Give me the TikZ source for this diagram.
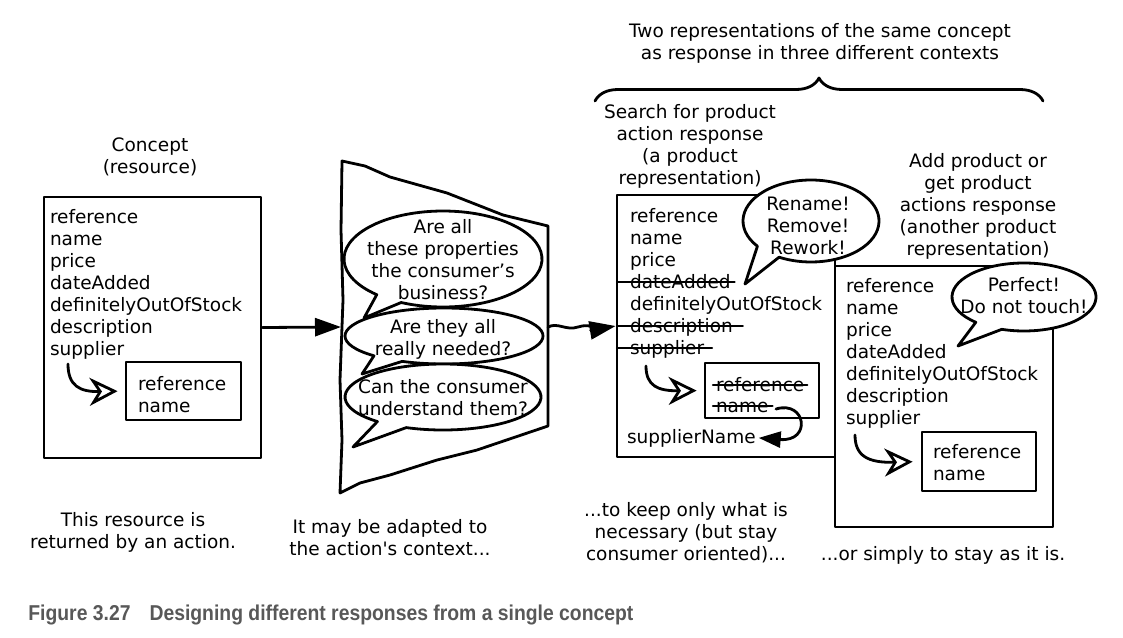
\documentclass[tikz,border=0pt]{standalone}
\usepackage{fontspec}
\setmainfont{DejaVu Sans}
\newfontfamily\capfont[FakeStretch=0.9]{Liberation Sans}
\usetikzlibrary{arrows.meta,calc,decorations.pathreplacing}
\definecolor{capgrey}{RGB}{88,88,88}
\newcommand\mybubble[8]{%
  \draw[bub] ($(#1,#2)+(#6:#3 and #4)$) arc[start angle=#6, end angle={#5+360}, x radius=#3, y radius=#4] -- (#7,#8) -- cycle;}
\begin{document}
\begin{tikzpicture}[x=1pt,y=-1pt, line width=2.8pt, line join=round, line cap=round,
  txt/.style={font=\fontsize{18.5}{22}\selectfont, inner sep=0pt, outer sep=0pt},
  ctxt/.style={txt, align=center},
  ltxt/.style={txt, anchor=base west},
  box/.style={draw, fill=white, inner sep=0pt, line width=2.8pt},
  bub/.style={draw, fill=white, line width=2.8pt},
  strike/.style={line width=2.2pt},
  openarr/.style={-{Stealth[open,length=28pt,width=28pt,inset=9pt]}},
  fillarr/.style={-{Triangle[length=26pt,width=18pt]}},
  fillarrb/.style={-{Triangle[length=22pt,width=16pt]}},
]
\useasboundingbox (0,0) rectangle (1123,637);

% ---------- left concept box ----------
\node[ctxt] (concept) at (150,157) {Concept\\(resource)};
\node[box, minimum width=217pt, minimum height=261pt] (lbox) at (152.5,327.5) {};
\foreach \t [count=\i] in {reference,name,price,dateAdded,definitelyOutOfStock,description,supplier}
  \node[ltxt] (L\i) at (50,{201+22*\i}) {\t};
\node[box, minimum width=115pt, minimum height=58pt] (libox) at (183.5,391) {};
\node[ltxt] (LI1) at (138,390) {reference};
\node[ltxt] (LI2) at (138,412) {name};
\coordinate (ls) at (68,364);
\draw[openarr, shorten >=7pt] (ls) .. controls (68,386) and (80,392) .. (libox.west);
\node[ctxt] (t1) at (133,532) {This resource is\\returned by an action.};

% ---------- middle shape ----------
\draw[fill=white] (342,161) -- (365,166) -- (390,177) -- (447,193) -- (503,215) -- (548,226)
  -- (548,426) -- (477,450) -- (437,460) -- (390,475) -- (360,483) -- (340,493)
  -- (342,440) -- (340,380) -- (343,300) -- (341,230) -- cycle;
\coordinate (midW) at (341,327);
\coordinate (midE) at (548,327);
\mybubble{443}{259}{99}{48}{115}{132}{364}{318}
\node[ctxt] (q1) at (443,260) {Are all\\these properties\\the consumer’s\\business?};
\mybubble{444}{336}{99}{28}{115}{135}{362}{374}
\node[ctxt] (q2) at (443,339) {Are they all\\really needed?};
\mybubble{443}{397}{98}{33}{112}{132}{353}{447}
\node[ctxt] (q3) at (443,398) {Can the consumer\\understand them?};
\node[ctxt] (t2) at (390,538) {It may be adapted to\\the action\textquotesingle s context...};
\draw[fillarr] (lbox.east) -- (midW);

% ---------- heading and brace ----------
\node[ctxt] (head) at (820,43) {Two representations of the same concept\\as response in three different contexts};
\draw[decorate, decoration={brace, amplitude=23pt}] (595,101) -- (1043,101);

% ---------- response box 1 ----------
\node[ctxt] (h1) at (690,146) {Search for product\\action response\\(a product\\representation)};
\node[box, minimum width=218pt, minimum height=262pt] (box1) at (726,326) {};
\foreach \t [count=\i] in {reference,name,price,dateAdded,definitelyOutOfStock,description,supplier}
  \node[ltxt] (R\i) at (630,{200+22*\i}) {\t};
\node[box, minimum width=114pt, minimum height=55pt] (ibox1) at (762,390.5) {};
\node[ltxt] (RI1) at (716,391) {reference};
\node[ltxt] (RI2) at (716,412) {name};
\node[ltxt] (SN) at (627,443) {supplierName};
\draw[strike] ([xshift=-13pt,yshift=6pt]R4.base west) -- ([xshift=4pt,yshift=6pt]R4.base east);
\draw[strike] ([xshift=-13pt,yshift=6pt]R6.base west) -- ([xshift=10pt,yshift=6pt]R6.base east);
\draw[strike] ([xshift=-13pt,yshift=6pt]R7.base west) -- ([xshift=8pt,yshift=6pt]R7.base east);
\draw[strike] ([xshift=-3pt,yshift=6pt]RI1.base west) -- ([xshift=3pt,yshift=6pt]RI1.base east);
\draw[strike] ([xshift=-3pt,yshift=6pt]RI2.base west) -- ([xshift=4pt,yshift=6pt]RI2.base east);
\coordinate (b1s) at (646,366);
\draw[openarr, shorten >=7pt] (b1s) .. controls (646,386) and (658,391) .. (ibox1.west);
\coordinate (nstart) at (776,409);
\draw[fillarrb] (nstart) .. controls (806,400) and (812,442) .. ([xshift=3pt]SN.east);
\draw[fillarr] (midE) .. controls (558,322) and (566,331) .. (578,327) .. controls (590,323) and (598,329) .. (box1.west);
\mybubble{811}{221}{68}{41}{118}{142}{745}{284}
\node[ctxt] (rn) at (808,226) {Rename!\\Remove!\\Rework!};
\node[ctxt] (t3) at (686,533) {...to keep only what is\\necessary (but stay\\consumer oriented)...};

% ---------- response box 2 ----------
\node[ctxt] (h2) at (978,206) {Add product or\\get product\\actions response\\(another product\\representation)};
\node[box, minimum width=218pt, minimum height=261pt] (box2) at (944,396.5) {};
\foreach \t [count=\i] in {reference,name,price,dateAdded,definitelyOutOfStock,description,supplier}
  \node[ltxt] (S\i) at (846,{270+22*\i}) {\t};
\node[box, minimum width=114pt, minimum height=59pt] (ibox2) at (979,461.5) {};
\node[ltxt] (SI1) at (933,458) {reference};
\node[ltxt] (SI2) at (933,480) {name};
\coordinate (b2s) at (855,435);
\draw[openarr, shorten >=8pt] (b2s) .. controls (855,456) and (868,463) .. (ibox2.west);
\mybubble{1024}{297}{72}{34}{108}{132}{958}{346}
\node[ctxt] (pf) at (1024,296) {Perfect!\\Do not touch!};
\node[ctxt] (t4) at (943,555) {...or simply to stay as it is.};

% ---------- caption ----------
\node[anchor=base west, inner sep=0pt, text=capgrey, font=\capfont\bfseries\fontsize{21.5}{25}\selectfont] (cap) at (27,620)
  {Figure 3.27\hspace{19pt}Designing different responses from a single concept};
\end{tikzpicture}
\end{document}
